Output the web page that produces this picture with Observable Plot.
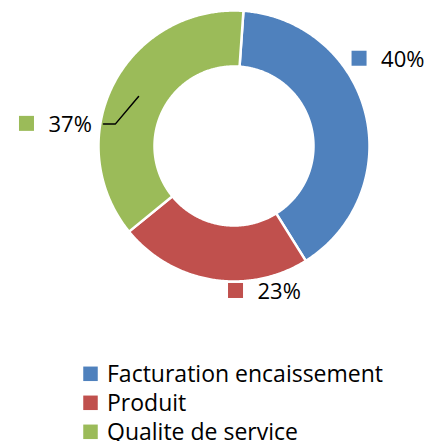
<!DOCTYPE html>
<html>
<head>
<meta charset="utf-8">
<script src="https://cdn.jsdelivr.net/npm/d3@7"></script>
<script src="https://cdn.jsdelivr.net/npm/@observablehq/plot@0.6"></script>
<style>
  html, body { margin: 0; padding: 0; background: #fff; }
  #chart { width: 427px; height: 441px; }
</style>
</head>
<body>
<div id="chart"></div>
<script>
// ---- data ----
const categories = ["Facturation encaissement", "Produit", "Qualite de service"];
const values = [40, 23, 37];
const labels = ["40%", "23%", "37%"];
const colors = ["#4F81BD", "#C0504D", "#9BBB59"];

// ---- layout ----
const W = 427, H = 441;
const cx = 233.5, cy = 145.5, rOuter = 135.5, rInner = 79.5;
const startDeg = 4;
// label placement (polar, around centre) per slice
const labelAngleDeg = [55.2, 179.2, 276.1];
const labelRadius = [152.9, 145, 208.2];
const sq = 15;
const fontSize = 22;
const legendFontSize = 23;

const rad = d => d * Math.PI / 180;
const px = (a, r) => cx + r * Math.sin(a);
const py = (a, r) => cy - r * Math.cos(a);

const pie = d3.pie().sort(null).startAngle(rad(startDeg)).endAngle(rad(startDeg) + 2 * Math.PI);
const arcs = pie(values);

// ring polygons
const poly = [];
arcs.forEach((a, i) => {
  const n = Math.max(8, Math.ceil((a.endAngle - a.startAngle) / rad(0.5)));
  for (let k = 0; k <= n; k++) {
    const t = a.startAngle + (a.endAngle - a.startAngle) * k / n;
    poly.push({key: categories[i], x: px(t, rOuter), y: py(t, rOuter)});
  }
  for (let k = n; k >= 0; k--) {
    const t = a.startAngle + (a.endAngle - a.startAngle) * k / n;
    poly.push({key: categories[i], x: px(t, rInner), y: py(t, rInner)});
  }
});

// data labels
const lab = arcs.map((a, i) => {
  const t = rad(labelAngleDeg[i]);
  return {key: categories[i], text: labels[i], x: px(t, labelRadius[i]), y: py(t, labelRadius[i]), mid: (a.startAngle + a.endAngle) / 2};
});

// leader line for the green slice
const g = lab[2];
const textEnd = g.x + sq / 2 + 14 + 45;
const mid = g.mid, rm = (rOuter + rInner) / 2;
const leader = [
  {x: textEnd + 10, y: g.y},
  {x: textEnd + 22, y: g.y},
  {x: px(mid, rm), y: py(mid, rm)}
];

// legend
const legX = 90.5, legY0 = 373.8, legStep = 29;
const legend = categories.map((c, i) => ({key: c, x: legX, y: legY0 + i * legStep}));

const color = {domain: categories, range: colors};

const chart = Plot.plot({
  width: W, height: H,
  margin: 0,
  x: {domain: [0, W], range: [0, W], axis: null},
  y: {domain: [0, H], range: [0, H], axis: null},
  color,
  style: {fontFamily: "'Open Sans', sans-serif", background: "#fff", overflow: "visible"},
  marks: [
    Plot.line(poly, {x: "x", y: "y", z: "key", fill: "key", stroke: "#fff", strokeWidth: 2.5, curve: "linear-closed"}),
    Plot.line(leader, {x: "x", y: "y", stroke: "#000", strokeWidth: 1.5}),
    Plot.rect(lab, {x1: d => d.x - sq / 2, x2: d => d.x + sq / 2, y1: d => d.y - sq / 2, y2: d => d.y + sq / 2, fill: "key"}),
    Plot.text(lab, {x: d => d.x + sq / 2 + 14, y: d => d.y + 1, text: "text", textAnchor: "start", fontSize, fill: "#000"}),
    Plot.rect(legend, {x1: d => d.x - 7.25, x2: d => d.x + 7.25, y1: d => d.y - 7.25, y2: d => d.y + 7.25, fill: "key"}),
    Plot.text(legend, {x: d => d.x + 16, y: d => d.y + 0.8, text: "key", textAnchor: "start", fontSize: legendFontSize, fill: "#000"})
  ]
});
document.getElementById("chart").appendChild(chart);
</script>
</body>
</html>
